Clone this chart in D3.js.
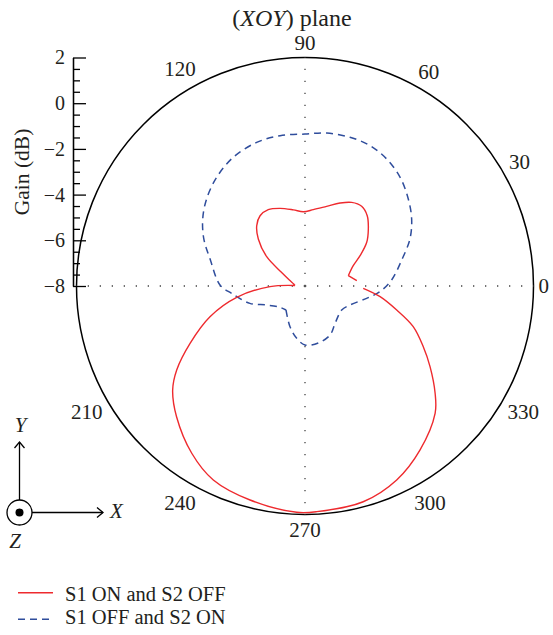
<!DOCTYPE html>
<html>
<head>
<meta charset="utf-8">
<script src="https://cdn.jsdelivr.net/npm/d3@7/dist/d3.min.js"></script>
<style>
  html, body { margin: 0; padding: 0; background: #fff; }
  svg { display: block; font-family: "Liberation Serif", "DejaVu Serif", serif; }
</style>
</head>
<body>
<svg id="chart" width="553" height="635"></svg>
<script>
// Polar gain patterns in the XOY plane (degrees, dB)
const redAngles = [5.9, 13.4, 22.8, 28.8, 35.3, 42, 48.5, 54.6, 60.8, 67.1, 74.8, 83.8, 91.3, 98.7,
  107.8, 115.7, 122.6, 128.7, 134.8, 142.6, 150, 160, 170, 177, 181, 189.4, 197.9, 206.5, 213.2,
  218.2, 225.5, 235.9, 244.7, 255.6, 267.9, 273, 285.1, 295.3, 305, 315.6, 320.5, 327.2, 332.8,
  339.4, 345.3, 351.9, 357.7];
const redGain = [-5.72, -6.05, -5.71, -5.25, -4.69, -4.27, -3.89, -3.72, -3.81, -4.06, -4.39, -4.64,
  -4.75, -4.63, -4.43, -4.29, -4.35, -4.62, -5.10, -5.89, -6.82, -7.30, -7.50, -7.56, -6.47, -4.97,
  -3.63, -2.38, -1.29, -0.63, 0.02, 0.84, 1.39, 1.67, 1.91, 1.89, 1.78, 1.39, 0.77, -0.03, -0.62,
  -1.49, -2.18, -2.94, -3.85, -4.68, -5.45];
const redCorners = [13.4, 177];

const blueAngles = [4, 15, 24.1, 32.1, 40.1, 48.8, 57.3, 65.1, 73.2, 81.9, 90, 99.4, 108.6, 119.1,
  129.1, 138.5, 146.8, 155.1, 164.1, 179.3, 185.7, 197.5, 206.4, 220.4, 231.6, 249.8, 261,
  270, 283.1, 297, 308.8, 326.8, 337.1, 348.7, 355.7];
const blueGain = [-4.20, -3.62, -2.97, -2.49, -2.09, -1.68, -1.39, -1.23, -1.20, -1.24, -1.35, -1.33,
  -1.37, -1.55, -1.87, -2.25, -2.65, -3.12, -3.68, -4.28, -4.77, -5.47, -6.13, -6.56, -6.66,
  -6.10, -5.68, -5.42, -5.44, -5.59, -5.90, -6.08, -5.86, -5.25, -4.71];
const blueCorners = [231.6];

const angleLabels = [0, 30, 60, 90, 120, 210, 240, 270, 300, 330];
const gainTicks = [2, 0, -2, -4, -6, -8];
const gainMinorTicks = [1.5, 1, 0.5, -0.5, -1, -1.5, -2.5, -3, -3.5, -4.5, -5, -5.5, -6.5, -7, -7.5];
const seriesNames = ["S1 ON and S2 OFF", "S1 OFF and S2 ON"];
const seriesColors = ["#ee2a2e", "#2f4d9c"];

const svg = d3.select("#chart");
const cx = 305, cy = 286, R = 228.5;
const ink = "#231f20";

const rScale = d3.scaleLinear().domain([-8, 2]).range([0, R]);
const gScale = d3.scaleLinear().domain([-8, 2]).range([cy, cy - R]);
const rad = a => a * Math.PI / 180;
const toXY = (a, g) => [cx + rScale(g) * Math.cos(rad(a)), cy - rScale(g) * Math.sin(rad(a))];

// Title
const title = svg.append("text").attr("x", 292).attr("y", 26).attr("text-anchor", "middle")
  .attr("font-size", 24).attr("fill", ink);
title.append("tspan").text("(");
title.append("tspan").attr("font-style", "italic").text("XOY");
title.append("tspan").text(") plane");

// Outer circle
svg.append("circle").attr("cx", cx).attr("cy", cy).attr("r", R)
  .attr("fill", "none").attr("stroke", "#000").attr("stroke-width", 1.5);

// Dotted cross-hairs from the centre
[0, 90, 180, 270].forEach(a => {
  const [x2, y2] = toXY(a, 2);
  svg.append("line").attr("x1", cx).attr("y1", cy).attr("x2", x2).attr("y2", y2)
    .attr("stroke", "#444").attr("stroke-width", 1.3).attr("stroke-dasharray", "1.3,10.7");
});

// Angle labels
angleLabels.forEach(a => {
  const w = String(a).length * 10.5;
  const lr = R + 5 + Math.abs(Math.cos(rad(a))) * w / 2 + Math.abs(Math.sin(rad(a))) * 10;
  svg.append("text")
    .attr("x", cx + lr * Math.cos(rad(a)))
    .attr("y", cy - lr * Math.sin(rad(a)))
    .attr("text-anchor", "middle").attr("dominant-baseline", "central")
    .attr("font-size", 21).attr("fill", ink).text(a);
});

// Radial gain axis on the left
const axisX = 73;
const major = svg.append("g").attr("transform", `translate(${axisX},0)`)
  .call(d3.axisLeft(gScale).tickValues(gainTicks).tickSize(-13).tickSizeOuter(0)
    .tickPadding(8).tickFormat(d3.format("d")));
const minor = svg.append("g").attr("transform", `translate(${axisX},0)`)
  .call(d3.axisLeft(gScale).tickValues(gainMinorTicks).tickSize(-7).tickSizeOuter(0)
    .tickFormat(""));
[major, minor].forEach(g => {
  g.selectAll("path, line").attr("stroke", "#000").attr("stroke-width", 1.3);
  g.selectAll("text").attr("font-family", "Liberation Serif, serif").attr("font-size", 20).attr("fill", ink);
});
svg.append("text").attr("transform", "translate(29,172) rotate(-90)")
  .attr("text-anchor", "middle").attr("font-size", 21.5).attr("fill", ink).text("Gain (dB)");

// Split a pattern at its sharp corners so each smooth run is drawn on its own
function cornerSegments(points, corners, closed) {
  let pts = points.slice();
  if (closed) {
    const k = pts.findIndex(p => p.a === corners[0]);
    pts = pts.slice(k).concat(pts.slice(0, k + 1));
  }
  const segs = [];
  let cur = [];
  pts.forEach((p, i) => {
    cur.push(p);
    if (i > 0 && i < pts.length - 1 && corners.includes(p.a)) { segs.push(cur); cur = [p]; }
  });
  segs.push(cur);
  return segs;
}

const line = d3.line().x(p => toXY(p.a, p.g)[0]).y(p => toXY(p.a, p.g)[1])
  .curve(d3.curveCatmullRom.alpha(0.5));

const bluePts = blueAngles.map((a, i) => ({ a, g: blueGain[i] }));
const redPts = redAngles.map((a, i) => ({ a, g: redGain[i] }));

svg.append("path")
  .attr("d", cornerSegments(bluePts, blueCorners, true).map(s => line(s)).join(""))
  .attr("fill", "none").attr("stroke", seriesColors[1]).attr("stroke-width", 1.5)
  .attr("stroke-dasharray", "7,5");

svg.append("path")
  .attr("d", cornerSegments(redPts, redCorners, false).map(s => line(s)).join(""))
  .attr("fill", "none").attr("stroke", seriesColors[0]).attr("stroke-width", 1.4)
  .attr("stroke-linejoin", "miter");

// Coordinate system sketch
const ox = 19.5, oy = 512.5;
const axes = svg.append("g").attr("stroke", "#000").attr("stroke-width", 1.3).attr("fill", "none");
axes.append("line").attr("x1", ox).attr("y1", oy - 12.5).attr("x2", ox).attr("y2", 442);
axes.append("path").attr("d", `M${ox - 5},${448} L${ox},${442} L${ox + 5},${448}`);
axes.append("line").attr("x1", ox + 12.5).attr("y1", oy).attr("x2", 103).attr("y2", oy);
axes.append("path").attr("d", `M97,${oy - 5} L103,${oy} L97,${oy + 5}`);
axes.append("circle").attr("cx", ox).attr("cy", oy).attr("r", 12.5);
svg.append("circle").attr("cx", ox).attr("cy", oy).attr("r", 4).attr("fill", "#000");
[["Y", 20.5, 432, "middle"], ["X", 110, 518, "start"], ["Z", 15, 548, "middle"]].forEach(([t, x, y, anc]) => {
  svg.append("text").attr("x", x).attr("y", y).attr("text-anchor", anc)
    .attr("font-size", 21).attr("font-style", "italic").attr("fill", ink).text(t);
});

// Legend
const legend = svg.append("g");
const legendLineY = [592.7, 619.3];
const legendTextY = [600.7, 624];
seriesNames.forEach((name, i) => {
  legend.append("line").attr("x1", 18).attr("x2", 53)
    .attr("y1", legendLineY[i]).attr("y2", legendLineY[i])
    .attr("stroke", seriesColors[i]).attr("stroke-width", 1.5)
    .attr("stroke-dasharray", i === 1 ? "7,5" : null);
  legend.append("text").attr("x", 65).attr("y", legendTextY[i]).attr("font-size", 20.5)
    .attr("fill", ink).text(name);
});
</script>
</body>
</html>
